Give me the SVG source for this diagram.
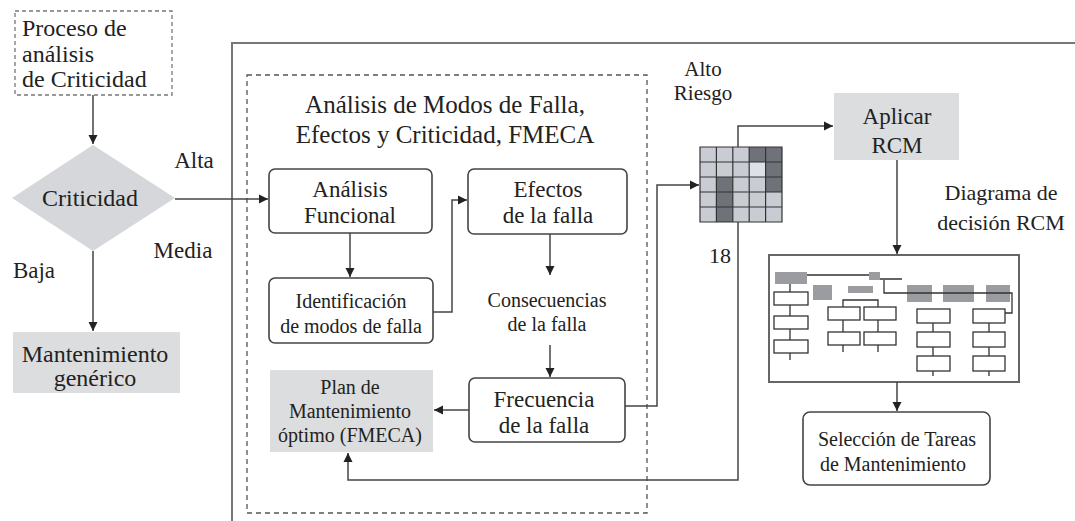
<svg xmlns="http://www.w3.org/2000/svg" width="1075" height="521" viewBox="0 0 1075 521" font-family="'Liberation Serif', 'DejaVu Serif', serif">
<defs>
<marker id="ah" markerWidth="10" markerHeight="10" refX="9" refY="5" orient="auto" markerUnits="userSpaceOnUse">
<path d="M0,0.5 L9,5 L0,9.5 Z" fill="#222"/>
</marker>
<style>
text{font-family:'Liberation Serif','DejaVu Serif',serif;fill:#222;text-anchor:middle}
.t24{font-size:24px}
.t23{font-size:23px}
.t22{font-size:22px}
.t21{font-size:21px}
.t20{font-size:20px}
.t25{font-size:25px}
.rbox{fill:#fff;stroke:#444;stroke-width:1.6}
.gbox{fill:#dcdddf;stroke:none}
.conn{fill:none;stroke:#444;stroke-width:1.5}
.mini{fill:#fff;stroke:#333;stroke-width:1.3}
.minig{fill:#9a9c9f}
.mline{fill:none;stroke:#333;stroke-width:1.3}
.cl{fill:#c9cdd3}
.cd{fill:#707279}
.cv{fill:#dde1e7}
</style>
</defs>
<rect width="1075" height="521" fill="#fff"/>

<g id="outer">
<path d="M1075,43 H232 V521" fill="none" stroke="#777" stroke-width="2"/>
</g>

<g id="fmeca-frame">
<rect x="247" y="75" width="400" height="438" fill="none" stroke="#555" stroke-width="1.3" stroke-dasharray="5,4"/>
<text class="t25" x="445" y="113">Análisis de Modos de Falla,</text>
<text class="t25" x="445" y="143">Efectos y Criticidad, FMECA</text>
</g>

<g id="proceso">
<rect x="15" y="11" width="157" height="84" fill="#fff" stroke="#777" stroke-width="1.3" stroke-dasharray="4,3"/>
<text class="t24" x="22" y="36" style="text-anchor:start">Proceso de</text>
<text class="t24" x="22" y="62" style="text-anchor:start">análisis</text>
<text class="t24" x="22" y="87" style="text-anchor:start">de Criticidad</text>
</g>

<g id="criticidad">
<polygon points="93,145 175,198 93,251 12,198" fill="#d5d7da"/>
<text class="t24" x="90" y="206">Criticidad</text>
</g>

<g id="labels">
<text class="t23" x="194" y="168">Alta</text>
<text class="t23" x="183" y="258">Media</text>
<text class="t23" x="34" y="278">Baja</text>
<text class="t21" x="703" y="76">Alto</text>
<text class="t21" x="703" y="100">Riesgo</text>
<text class="t22" x="720" y="263">18</text>
<text class="t22" x="1001" y="200">Diagrama de</text>
<text class="t22" x="1001" y="230">decisión RCM</text>
</g>

<g id="mant-generico">
<rect class="gbox" x="13" y="332" width="167" height="61"/>
<text class="t24" x="95" y="362">Mantenimiento</text>
<text class="t24" x="95" y="386">genérico</text>
</g>

<g id="analisis-funcional">
<rect class="rbox" x="269" y="169" width="163" height="64" rx="6"/>
<text class="t23" x="350" y="197">Análisis</text>
<text class="t23" x="350" y="223">Funcional</text>
</g>

<g id="identificacion">
<rect class="rbox" x="269" y="278" width="164" height="65" rx="6"/>
<text class="t20" x="351" y="308">Identificación</text>
<text class="t20" x="351" y="333">de modos de falla</text>
</g>

<g id="efectos">
<rect class="rbox" x="468" y="169" width="159" height="65" rx="6"/>
<text class="t23" x="548" y="197">Efectos</text>
<text class="t23" x="548" y="223">de la falla</text>
</g>

<g id="consecuencias">
<text class="t20" x="547" y="307">Consecuencias</text>
<text class="t20" x="547" y="331">de la falla</text>
</g>

<g id="frecuencia">
<rect class="rbox" x="469" y="378" width="156" height="64" rx="6"/>
<text class="t23" x="544" y="407">Frecuencia</text>
<text class="t23" x="544" y="433">de la falla</text>
</g>

<g id="plan">
<rect class="gbox" x="270" y="370" width="163" height="82"/>
<text class="t20" x="350" y="394">Plan de</text>
<text class="t20" x="350" y="418">Mantenimiento</text>
<text class="t20" x="350" y="442">óptimo (FMECA)</text>
</g>

<g id="matriz">
<rect class="cl" x="700" y="147" width="16.4" height="15"/>
<rect class="cl" x="716.4" y="147" width="16.4" height="15"/>
<rect class="cl" x="732.8" y="147" width="16.4" height="15"/>
<rect class="cd" x="749.2" y="147" width="16.4" height="15"/>
<rect class="cd" x="765.6" y="147" width="16.4" height="15"/>
<rect class="cl" x="700" y="162" width="16.4" height="15"/>
<rect class="cl" x="716.4" y="162" width="16.4" height="15"/>
<rect class="cl" x="732.8" y="162" width="16.4" height="15"/>
<rect class="cv" x="749.2" y="162" width="16.4" height="15"/>
<rect class="cd" x="765.6" y="162" width="16.4" height="15"/>
<rect class="cl" x="700" y="177" width="16.4" height="15"/>
<rect class="cd" x="716.4" y="177" width="16.4" height="15"/>
<rect class="cl" x="732.8" y="177" width="16.4" height="15"/>
<rect class="cl" x="749.2" y="177" width="16.4" height="15"/>
<rect class="cd" x="765.6" y="177" width="16.4" height="15"/>
<rect class="cl" x="700" y="192" width="16.4" height="15"/>
<rect class="cd" x="716.4" y="192" width="16.4" height="15"/>
<rect class="cl" x="732.8" y="192" width="16.4" height="15"/>
<rect class="cl" x="749.2" y="192" width="16.4" height="15"/>
<rect class="cl" x="765.6" y="192" width="16.4" height="15"/>
<rect class="cl" x="700" y="207" width="16.4" height="15"/>
<rect class="cd" x="716.4" y="207" width="16.4" height="15"/>
<rect class="cl" x="732.8" y="207" width="16.4" height="15"/>
<rect class="cl" x="749.2" y="207" width="16.4" height="15"/>
<rect class="cl" x="765.6" y="207" width="16.4" height="15"/>
<path d="M700,147 H782 V222 H700 Z M716.4,147 V222 M732.8,147 V222 M749.2,147 V222 M765.6,147 V222 M700,162 H782 M700,177 H782 M700,192 H782 M700,207 H782" fill="none" stroke="#333" stroke-width="1.2"/>
</g>

<g id="aplicar-rcm">
<rect class="gbox" x="834" y="93" width="125" height="67"/>
<text class="t23" x="897" y="124">Aplicar</text>
<text class="t23" x="897" y="153">RCM</text>
</g>

<g id="diagrama-rcm">
<rect x="769" y="255" width="250" height="127" fill="#fff" stroke="#666" stroke-width="2"/>
<rect class="minig" x="775" y="272" width="32" height="12"/>
<rect class="minig" x="869" y="272" width="11" height="8"/>
<rect class="minig" x="813" y="285" width="19" height="15"/>
<rect class="minig" x="848" y="286" width="25" height="7"/>
<rect class="minig" x="907" y="285" width="25" height="17"/>
<rect class="minig" x="943" y="285" width="31" height="17"/>
<rect class="minig" x="986" y="285" width="24" height="17"/>
<path class="mline" d="M807,275 H869 M880,279 H902 M884,280 V293 H1012 V313 H1005"/>
<path class="mline" d="M790,284 V360"/>
<rect class="mini" x="774" y="292" width="34" height="13"/>
<rect class="mini" x="774" y="316" width="34" height="13"/>
<rect class="mini" x="774" y="340" width="34" height="13"/>
<path class="mline" d="M843,307 V300 H878 V307 M843,320 V332 M878,320 V332 M843,345 V352 M878,345 V352"/>
<rect class="mini" x="828" y="307" width="32" height="13"/>
<rect class="mini" x="864" y="307" width="32" height="13"/>
<rect class="mini" x="828" y="332" width="32" height="13"/>
<rect class="mini" x="864" y="332" width="32" height="13"/>
<path class="mline" d="M933,323 V376 M989,323 V376"/>
<rect class="mini" x="917" y="309" width="33" height="14"/>
<rect class="mini" x="917" y="332" width="33" height="15"/>
<rect class="mini" x="917" y="356" width="33" height="15"/>
<rect class="mini" x="973" y="309" width="32" height="14"/>
<rect class="mini" x="973" y="332" width="32" height="15"/>
<rect class="mini" x="973" y="356" width="32" height="15"/>
</g>

<g id="seleccion">
<rect class="rbox" x="803" y="412" width="187" height="73" rx="7"/>
<text class="t20" x="897" y="446">Selección de Tareas</text>
<text class="t20" x="893" y="471">de Mantenimiento</text>
</g>

<g id="connectors">
<path class="conn" d="M93,95 V144" marker-end="url(#ah)"/>
<path class="conn" d="M175,199 H268" marker-end="url(#ah)"/>
<path class="conn" d="M93,251 V331" marker-end="url(#ah)"/>
<path class="conn" d="M350,233 V277" marker-end="url(#ah)"/>
<path class="conn" d="M433,312 H452 V200 H467" marker-end="url(#ah)"/>
<path class="conn" d="M550,234 V275" marker-end="url(#ah)"/>
<path class="conn" d="M550,345 V377" marker-end="url(#ah)"/>
<path class="conn" d="M469,410 H434" marker-end="url(#ah)"/>
<path class="conn" d="M625,406 H657 V185 H699" marker-end="url(#ah)"/>
<path class="conn" d="M738,147 V126 H833" marker-end="url(#ah)"/>
<path class="conn" d="M738,222 V480 H348 V453" marker-end="url(#ah)"/>
<path class="conn" d="M897,160 V254" marker-end="url(#ah)"/>
<path class="conn" d="M897,382 V411" marker-end="url(#ah)"/>
</g>
</svg>
